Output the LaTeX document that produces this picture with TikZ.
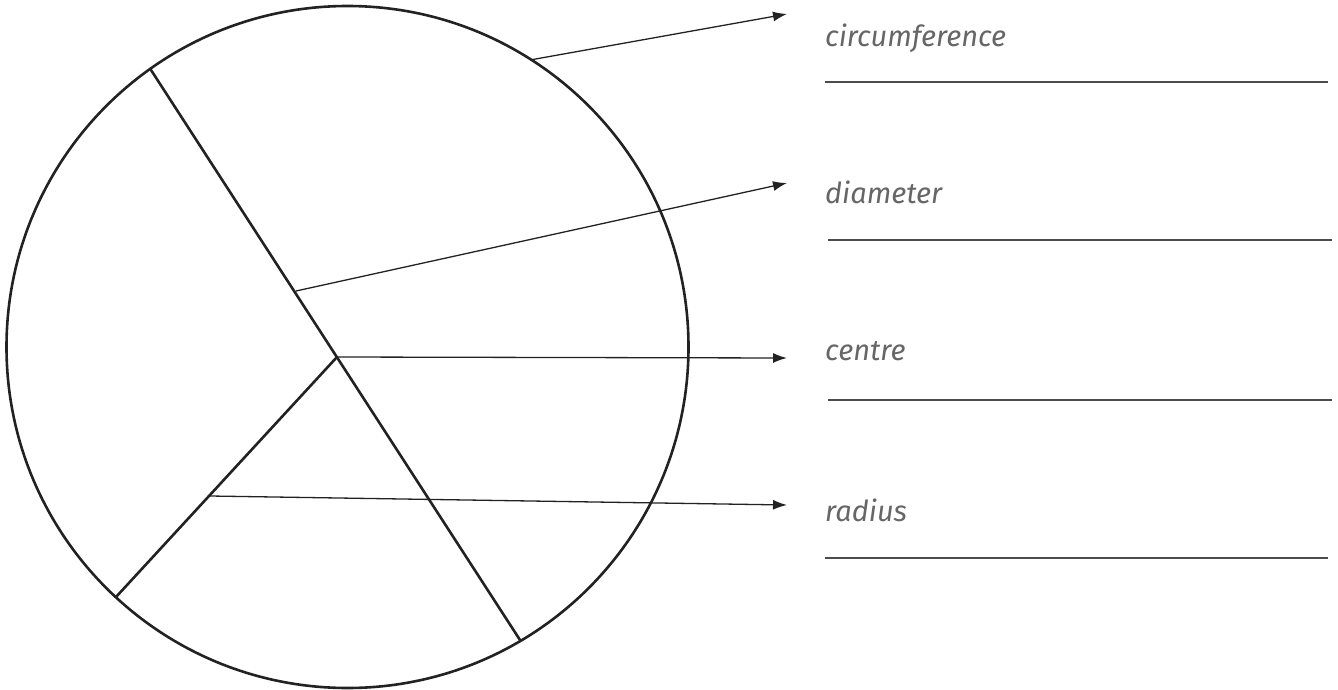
\documentclass[tikz,border=0pt]{standalone}
\usepackage{fontspec}
\setmainfont{Fira Sans}
\usetikzlibrary{arrows.meta}
\definecolor{labelgrey}{HTML}{666666}
\definecolor{inkgrey}{HTML}{222222}
\tikzset{
  shape line/.style={line width=2.6pt, draw=inkgrey},
  pointer/.style={line width=1.3pt, draw=inkgrey, -{Latex[length=14pt,width=10pt]}},
  answer line/.style={line width=1.8pt, draw=black!70},
  label text/.style={anchor=base west, inner sep=0pt, text=labelgrey, font=\fontsize{29}{34}\selectfont\itshape}
}
\begin{document}
\begin{tikzpicture}[x=1pt,y=-1pt]
\useasboundingbox (0,0) rectangle (1338,690);
\node[circle, shape line, minimum size=682pt, inner sep=0pt] (C) at (347.5,347) {};
\coordinate (dtop) at (151,70);
\coordinate (dbot) at (520,640);
\coordinate (cen) at (337,357);
\coordinate (rend) at (116,597);
\coordinate (circpt) at (530,60);
\coordinate (diampt) at (296,291);
\coordinate (radpt) at (210,496);
\draw[shape line, line cap=round] (dtop) -- (dbot);
\draw[shape line, line cap=round] (cen) -- (rend);
\node[label text] (l1) at (825,47) {circumference};
\node[label text] (l2) at (825,203) {diameter};
\node[label text] (l3) at (825,360) {centre};
\node[label text] (l4) at (825,521) {radius};
\coordinate (t1) at (787,14);
\coordinate (t2) at (787,183);
\coordinate (t3) at (787,358);
\coordinate (t4) at (787,505);
\draw[pointer] (circpt) -- (t1);
\draw[pointer] (diampt) -- (t2);
\draw[pointer] (cen) -- (t3);
\draw[pointer] (radpt) -- (t4);
\coordinate (u1a) at (825,82); \coordinate (u1b) at (1328,82);
\coordinate (u2a) at (828,240); \coordinate (u2b) at (1332,240);
\coordinate (u3a) at (828,400); \coordinate (u3b) at (1332,400);
\coordinate (u4a) at (825,558); \coordinate (u4b) at (1328,558);
\draw[answer line] (u1a) -- (u1b);
\draw[answer line] (u2a) -- (u2b);
\draw[answer line] (u3a) -- (u3b);
\draw[answer line] (u4a) -- (u4b);
\end{tikzpicture}
\end{document}
